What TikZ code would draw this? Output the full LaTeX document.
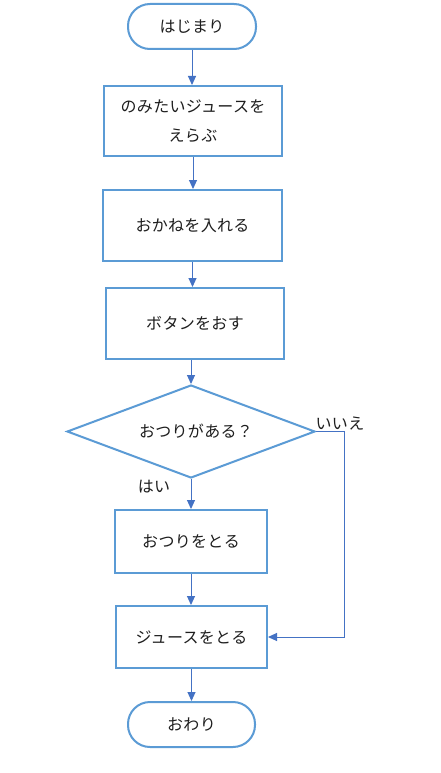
\documentclass[tikz,border=0pt]{standalone}
\usepackage{fontspec}
\setmainfont{Noto Sans CJK JP}[LetterSpace=2]
\usetikzlibrary{shapes.geometric,arrows.meta}
\definecolor{boxblue}{HTML}{5B9BD5}
\definecolor{linkblue}{HTML}{4472C4}
\definecolor{txt}{HTML}{1E1E1E}
\begin{document}
\begin{tikzpicture}[x=1pt,y=-1pt,
  every node/.style={font=\fontsize{16}{29}\selectfont, text=txt},
  termbox/.style={draw=boxblue, line width=2pt, fill=white, rectangle, rounded corners=22pt, inner sep=0pt},
  procbox/.style={draw=boxblue, line width=2pt, fill=white, rectangle, inner sep=0pt, align=center},
  decbox/.style={draw=boxblue, line width=2pt, fill=white, diamond, aspect=2.67, inner sep=0pt},
  link/.style={draw=linkblue, line width=1pt, -{Triangle[width=8pt,length=9pt]}},
  lbl/.style={inner sep=0pt}]
\fill[white] (0,0) rectangle (441,773);
\node[termbox, minimum width=128pt, minimum height=45pt] (start) at (192,26.5) {はじまり};
\node[procbox, minimum width=178pt, minimum height=70pt] (choose) at (193,121) {のみたいジュースを\\えらぶ};
\node[procbox, minimum width=179pt, minimum height=71pt] (money) at (192.5,225.5) {おかねを入れる};
\node[procbox, minimum width=178pt, minimum height=71pt] (button) at (195,323.5) {ボタンをおす};
\node[decbox, minimum width=248pt, minimum height=93pt] (change) at (191,431.5) {\hspace*{10pt}おつりがある？};
\node[procbox, minimum width=152pt, minimum height=63pt] (takechange) at (191,541.5) {おつりをとる};
\node[procbox, minimum width=151pt, minimum height=62pt] (takejuice) at (191.5,637) {ジュースをとる};
\node[termbox, minimum width=127pt, minimum height=45pt] (finish) at (191.5,724.5) {おわり};
\node[lbl] (yes) at (154,487) {はい};
\node[lbl] (no) at (340,424) {いいえ};
\draw[link] (start.south) -- (start.south |- choose.north);
\draw[link] (choose.south) -- (choose.south |- money.north);
\draw[link] (money.south) -- (money.south |- button.north);
\draw[link] (button.south -| change.north) -- (change.north);
\draw[link] (change.south) -- (change.south |- takechange.north);
\draw[link] (takechange.south) -- (takechange.south |- takejuice.north);
\draw[link] (takejuice.south) -- (takejuice.south |- finish.north);
\coordinate (turn) at ([xshift=28pt]change.east);
\draw[link] (change.east) -- (turn) |- (takejuice.east);
\end{tikzpicture}
\end{document}
